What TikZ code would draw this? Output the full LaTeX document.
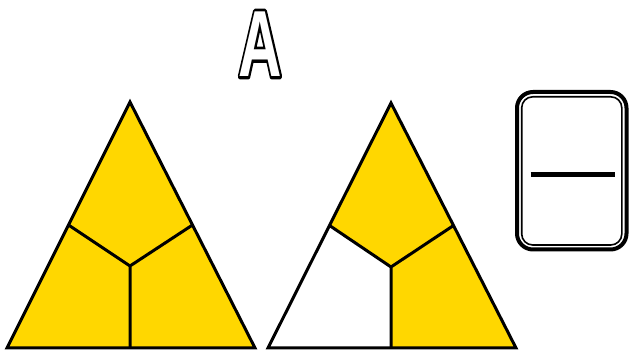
\documentclass[tikz,border=0pt]{standalone}
\usepackage{fontspec}
\setmainfont{Liberation Sans}
\definecolor{gold}{RGB}{255,215,0}
\newcommand{\outlinedtext}[1]{\rlap{\special{pdf:literal direct 0 0 0 RG 1 Tr 6 w 1 j}#1\special{pdf:literal direct 0 Tr 1 w 0 j}}#1}
\begin{document}
\begin{tikzpicture}[x=1pt,y=-1pt,
  edge/.style={line width=3pt,line join=miter}]
\useasboundingbox (0,0) rectangle (632,352);
% letter
\node[inner sep=0pt,xscale=0.64,text=white,font=\bfseries\fontsize{94}{94}\selectfont] (letter) at (260,44) {\outlinedtext{A}};
% left triangle
\coordinate (LA) at (130,102);
\coordinate (LL) at (7,348);
\coordinate (LR) at (255,348);
\coordinate (LC) at (130,266);
\coordinate (LML) at (68.5,225);
\coordinate (LMR) at (192.5,225);
\coordinate (LB) at (130,348);
\fill[gold] (LA) -- (LL) -- (LR) -- cycle;
\draw[edge] (LA) -- (LL) -- (LR) -- cycle;
\draw[edge] (LML) -- (LC) -- (LMR) (LC) -- (LB);
% right triangle
\coordinate (RA) at (391,103);
\coordinate (RL) at (268,348);
\coordinate (RR) at (516,348);
\coordinate (RC) at (391,267);
\coordinate (RML) at (329.5,225.5);
\coordinate (RMR) at (453.5,225.5);
\coordinate (RB) at (391,348);
\fill[gold] (RA) -- (RL) -- (RR) -- cycle;
\fill[white] (RL) -- (RML) -- (RC) -- (RB) -- cycle;
\draw[edge] (RA) -- (RL) -- (RR) -- cycle;
\draw[edge] (RML) -- (RC) -- (RMR) (RC) -- (RB);
% card
\draw[line width=4pt,rounded corners=16pt] (517,92) rectangle (626.5,249.5);
\draw[line width=1.6pt,rounded corners=11pt] (521.7,96.8) rectangle (621.8,245);
\coordinate (HL) at (530.5,175);
\coordinate (HR) at (615,175);
\draw[line width=5pt] (HL) -- (HR);
\end{tikzpicture}
\end{document}
